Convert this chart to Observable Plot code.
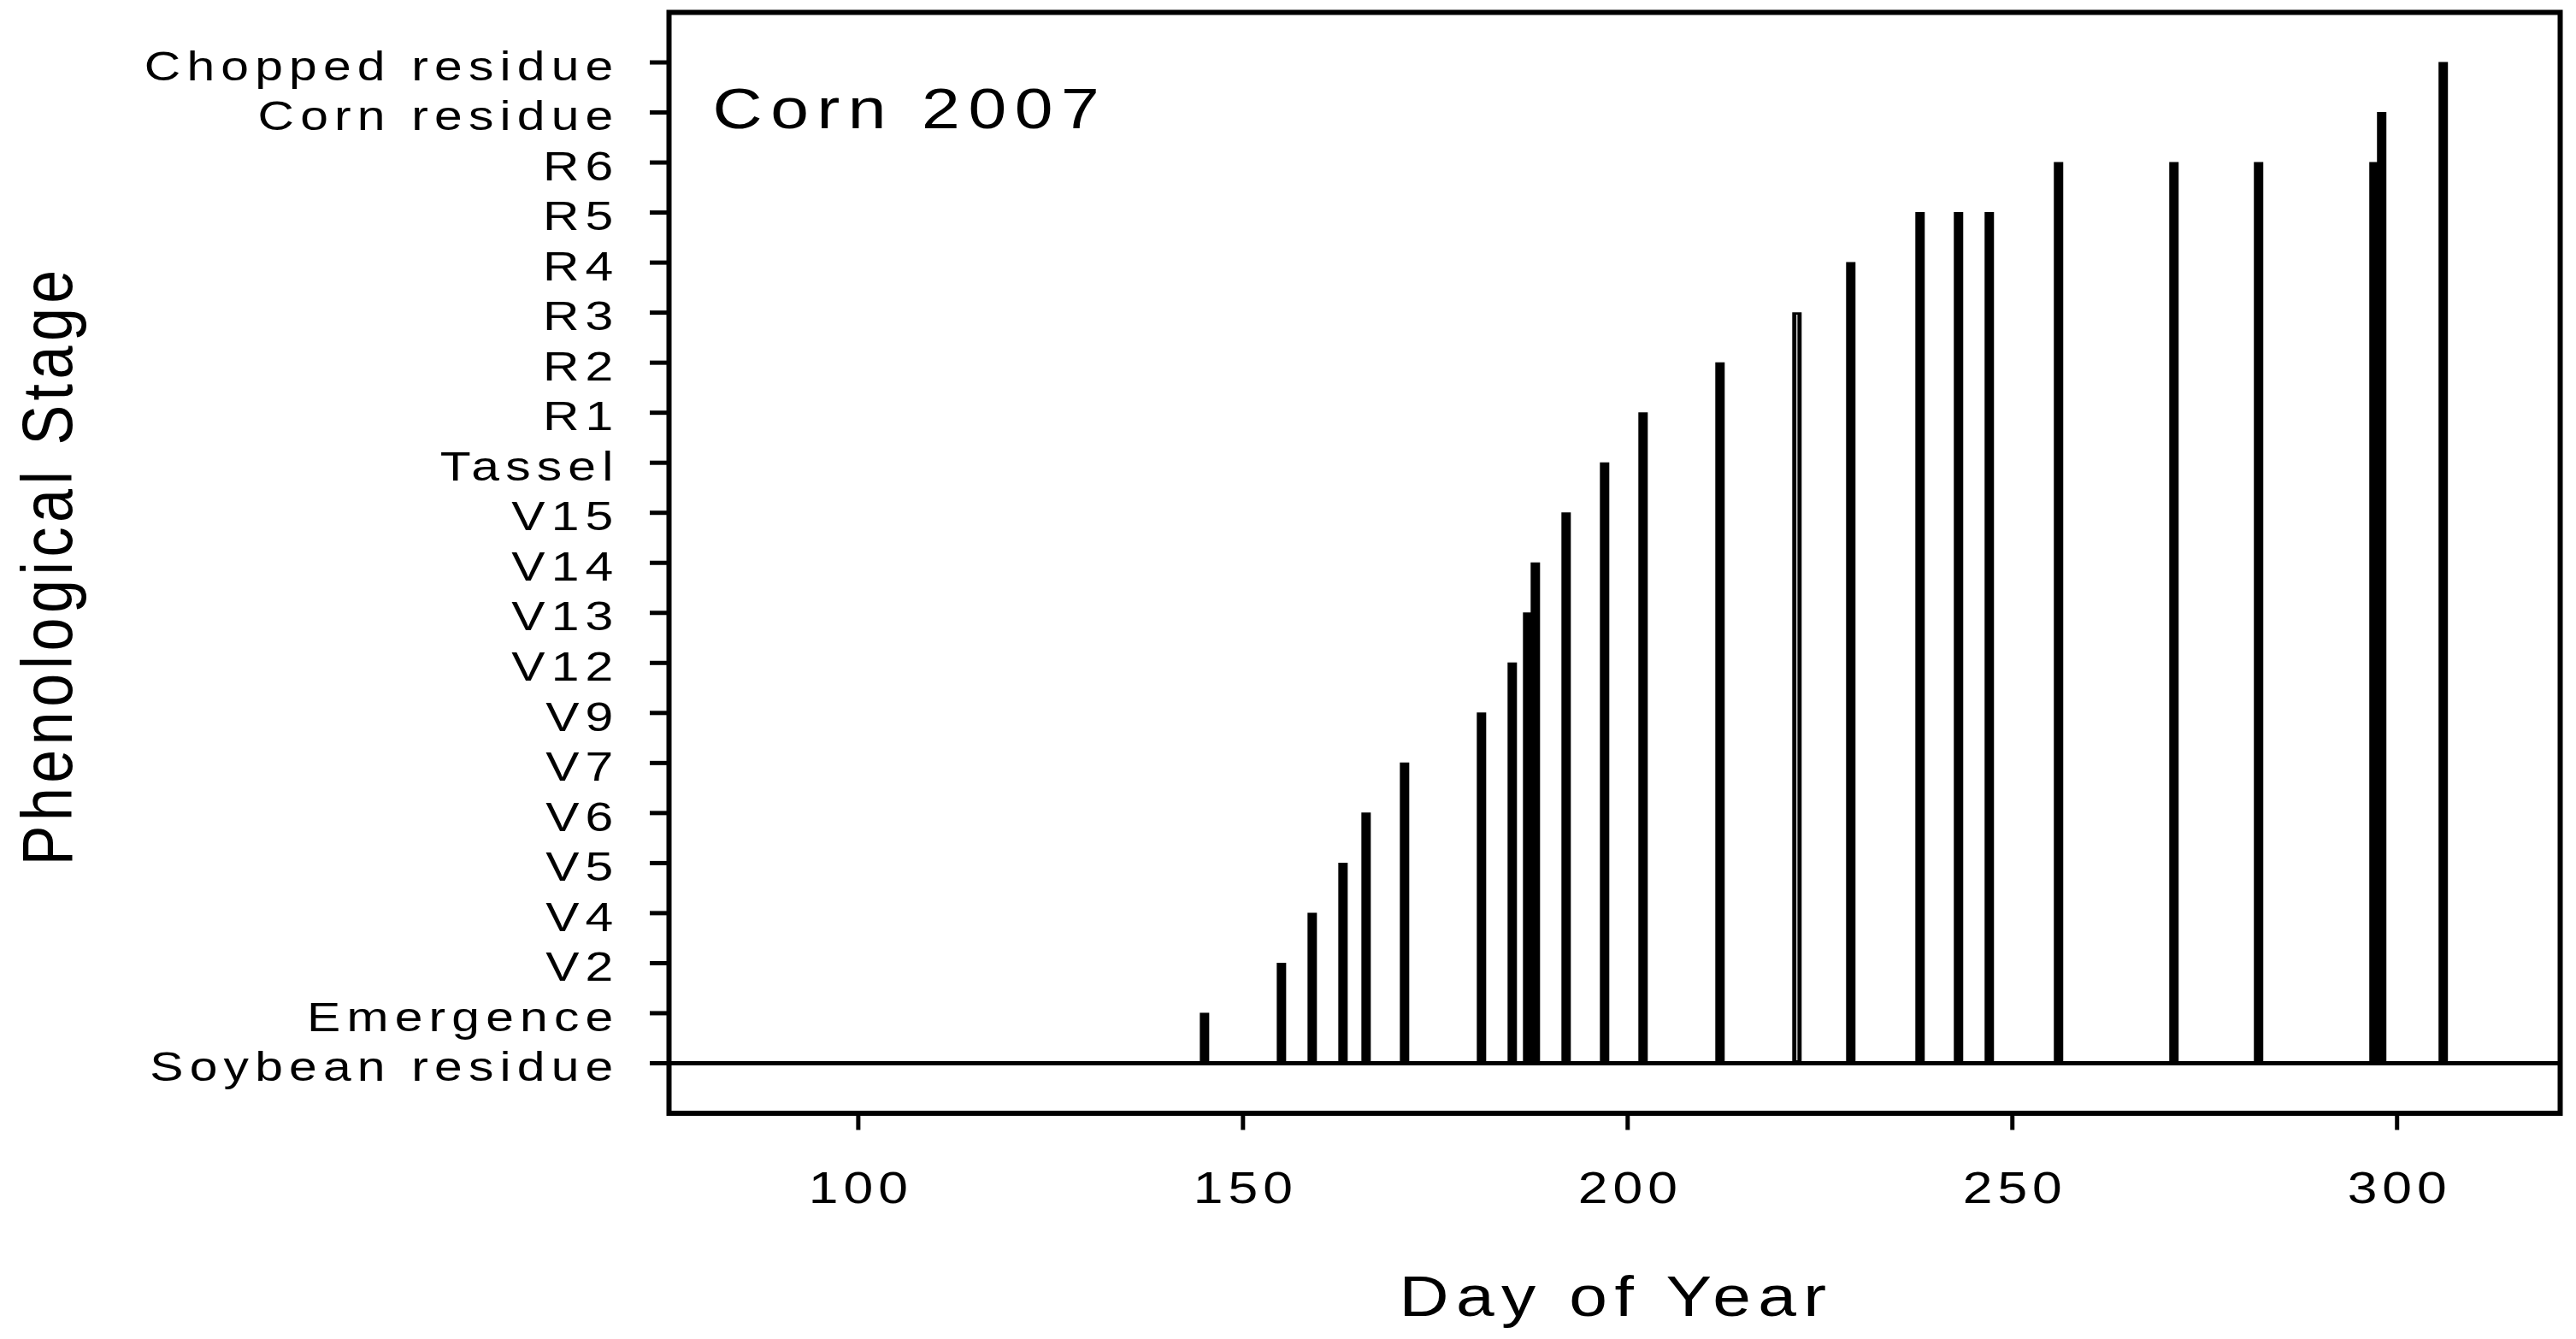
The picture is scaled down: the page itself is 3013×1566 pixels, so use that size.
<!DOCTYPE html>
<html>
<head>
<meta charset="utf-8">
<script src="https://cdn.jsdelivr.net/npm/d3@7"></script>
<script src="https://cdn.jsdelivr.net/npm/@observablehq/plot@0.6"></script>
<style>
  html, body { margin: 0; padding: 0; background: #fff; }
  #chart svg { display: block; }
</style>
</head>
<body>
<div id="chart"></div>
<script>
// Stage names, index = position on y axis
const stages = [
  "Soybean residue", "Emergence", "V2", "V4", "V5", "V6", "V7", "V9",
  "V12", "V13", "V14", "V15", "Tassel", "R1", "R2", "R3", "R4", "R5", "R6",
  "Corn residue", "Chopped residue"
];
// Observation day of year and the stage observed on that day
const days = [145, 155, 159, 163, 166, 171, 181, 185, 187, 188, 192, 197, 202,
              212, 222, 229, 238, 243, 247, 256, 271, 282, 297, 298, 306];
const observed = ["Emergence", "V2", "V4", "V5", "V6", "V7", "V9", "V12", "V13",
                  "V14", "V15", "Tassel", "R1", "R2", "R3", "R4", "R5", "R5", "R5",
                  "R6", "R6", "R6", "R6", "Corn residue", "Chopped residue"];
const hollowDays = [222];
const xTicks = [100, 150, 200, 250, 300];
const panelTitle = "Corn 2007";
const xTitle = "Day of Year";
const yTitle = "Phenological Stage";

const data = days.map((d, i) => ({day: d, stage: stages.indexOf(observed[i])}));
const yTicks = d3.range(0, stages.length);

const chart = Plot.plot({
  width: 3013,
  height: 1566,
  marginLeft: 782,
  marginRight: 19,
  marginTop: 14,
  marginBottom: 264.5,
  style: {fontFamily: "'Liberation Sans', Arial, sans-serif", background: "#fff", color: "#000"},
  x: {domain: [75.4, 321.2]},
  y: {domain: [-1, 21]},
  marks: [
    Plot.ruleY([0], {stroke: "#000", strokeWidth: 5}),
    Plot.ruleX(data, {x: "day", y1: 0, y2: "stage", stroke: "#000", strokeWidth: 11}),
    Plot.ruleX(data.filter(d => hollowDays.includes(d.day)), {x: "day", y1: 0.05, y2: (d) => d.stage - 0.05, stroke: "#fff", strokeWidth: 1.2}),
    Plot.frame({stroke: "#000", strokeWidth: 6}),
    // tick marks
    Plot.axisX({ticks: xTicks, tickSize: 20, strokeWidth: 5, tickFormat: () => "", label: null}),
    Plot.axisY({ticks: yTicks, tickSize: 22, strokeWidth: 5, tickFormat: () => "", label: null}),
    // tick labels
    Plot.axisX({ticks: xTicks, tickSize: 0, tickPadding: 68, fontSize: 52, dx: 3, label: null}),
    Plot.axisY({ticks: yTicks, tickFormat: (d) => stages[d], tickSize: 0, tickPadding: 58, fontSize: 49, dy: 5, label: null}),
    Plot.text([panelTitle], {frameAnchor: "top-left", textAnchor: "start", lineAnchor: "top", dx: 51, dy: 88, fontSize: 67}),
    Plot.text([xTitle], {frameAnchor: "bottom", textAnchor: "middle", lineAnchor: "top", dx: 2, dy: 189, fontSize: 67}),
    Plot.text([yTitle], {frameAnchor: "left", textAnchor: "middle", rotate: -90, lineAnchor: "top", dx: -758, dy: 3, fontSize: 70})
  ]
});

// The reference lettering is wide: stretch glyphs horizontally and open the spacing
const spacingByText = {[panelTitle]: 8, [xTitle]: 7, [yTitle]: 5.5};
chart.querySelectorAll("text").forEach((t) => {
  const g = t.closest("g[aria-label]");
  const key = g ? g.getAttribute("aria-label") : "";
  let ls = 0;
  if (key === "x-axis tick label") ls = 5;
  else if (key === "y-axis tick label") ls = 6;
  else if (t.textContent in spacingByText) ls = spacingByText[t.textContent];
  t.style.letterSpacing = ls + "px";
  const tr = t.getAttribute("transform") || "";
  t.setAttribute("transform", tr + (tr.includes("rotate") ? " scale(1,1.2)" : " scale(1.2,1)"));
});

document.getElementById("chart").appendChild(chart);
</script>
</body>
</html>
